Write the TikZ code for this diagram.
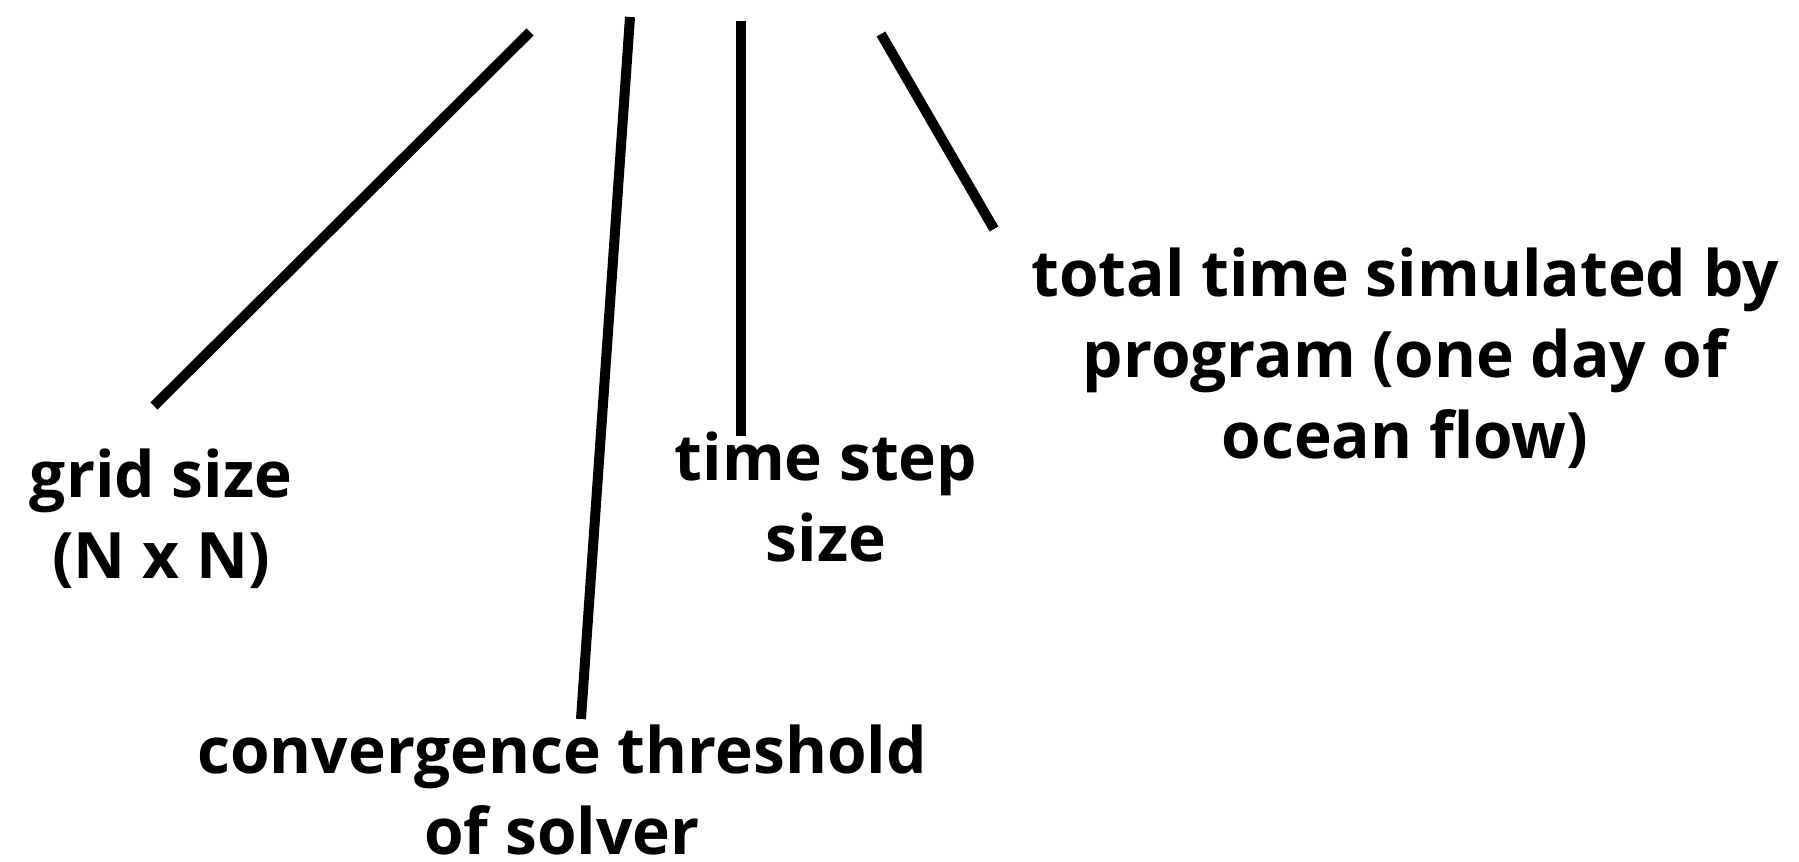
\documentclass[tikz,border=0pt]{standalone}
\usepackage{fontspec}
\setmainfont{Open Sans}
\usetikzlibrary{positioning,calc}

\begin{document}
\begin{tikzpicture}[x=1pt,y=1pt,
  lbl/.style={anchor=base,align=center,inner sep=0pt,font=\bfseries\fontsize{64}{81}\selectfont},
  leg/.style={line width=10pt,line cap=butt}]
\useasboundingbox (0,0) rectangle (1799,862);
% labels (anchored at the base line of their last line)
\node[lbl] (grid) at (161,283) {grid size\\(N x N)};
\node[lbl] (step) at (826,300) {time step\\size};
\node[lbl] (total) at (1405,403) {total time simulated by\\program (one day of\\ocean flow)};
\node[lbl] (conv) at (562,7) {convergence threshold\\of solver};
% upper ends
\coordinate (gridtop) at (530,830);
\coordinate (convtop) at (630,845);
\coordinate (steptop) at (741,841);
\coordinate (totaltop) at (881,828);
% lower ends
\coordinate (gridend) at (154,456);
\coordinate (convend) at (581,143);
\coordinate (stepend) at (741,426);
\coordinate (totalend) at (994,633);
\draw[leg] (gridtop) -- (gridend);
\draw[leg] (convtop) -- (convend);
\draw[leg] (steptop) -- (stepend);
\draw[leg] (totaltop) -- (totalend);
\end{tikzpicture}
\end{document}
